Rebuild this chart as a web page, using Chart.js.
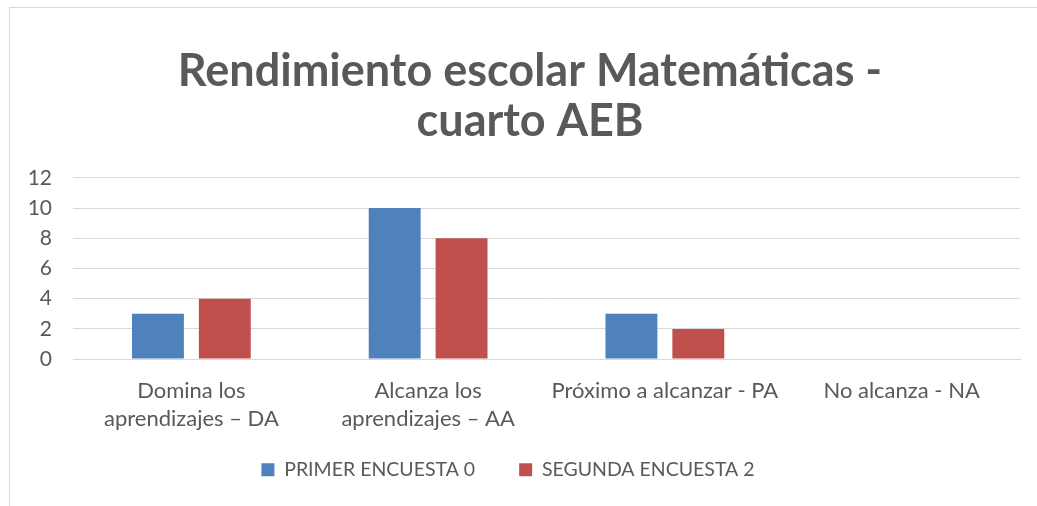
<!DOCTYPE html>
<html>
<head>
<meta charset="utf-8">
<script src="https://cdn.jsdelivr.net/npm/chart.js@4.4.0/dist/chart.umd.min.js"></script>
<style>
  html, body { margin: 0; padding: 0; background: #fff; }
  #wrap { position: relative; width: 1037px; height: 506px; overflow: hidden; }
  #frame { position: absolute; left: 9px; top: 7px; width: 1100px; height: 600px; border: 1px solid #d9d9d9; box-sizing: border-box; }
  canvas { position: absolute; left: 0; top: 0; }
</style>
</head>
<body>
<div id="wrap">
  <div id="frame"></div>
  <canvas id="myChart" width="1037" height="506"></canvas>
</div>
<script>
// categories and values
const categories = [
  ['Domina los', 'aprendizajes – DA'],
  ['Alcanza los', 'aprendizajes – AA'],
  'Próximo a alcanzar - PA',
  'No alcanza - NA'
];
const primerEncuesta = [3, 10, 3, 0];
const segundaEncuesta = [4, 8, 2, 0];
const yTicks = [0, 2, 4, 6, 8, 10, 12];

const textColor = '#595959';
const fontFamily = 'Lato, "Open Sans", sans-serif';

// title sits a little right of the canvas middle, legend a little left;
// the legend box is stretched upward so its wide item padding fits
const nudgeBoxes = {
  id: 'nudgeBoxes',
  afterLayout(chart) {
    chart.titleBlock.left += 15;
    chart.titleBlock.right += 15;
    chart.legend.left -= 7;
    chart.legend.right -= 7;
    chart.legend.top = 416;
  }
};

const ctx = document.getElementById('myChart');
const myChart = new Chart(ctx, {
  type: 'bar',
  data: {
    labels: categories,
    datasets: [{
      label: 'PRIMER ENCUESTA 0',
      data: primerEncuesta,
      backgroundColor: '#4F81BD'
    }, {
      label: 'SEGUNDA ENCUESTA 2',
      data: segundaEncuesta,
      backgroundColor: '#C0504D'
    }]
  },
  plugins: [nudgeBoxes],
  options: {
    responsive: false,
    animation: false,
    datasets: {
      bar: { categoryPercentage: 0.565, barPercentage: 0.776 }
    },
    layout: { padding: { left: 10, right: 17, top: 47, bottom: 14 } },
    plugins: {
      tooltip: { enabled: false },
      title: {
        display: true,
        text: ['Rendimiento escolar Matemáticas -', 'cuarto AEB'],
        color: textColor,
        font: { family: fontFamily, size: 45, weight: 'bold', lineHeight: 1.11 },
        padding: { top: 0, bottom: 31 }
      },
      legend: {
        position: 'bottom',
        maxHeight: 49,
        labels: {
          color: textColor,
          font: { family: fontFamily, size: 19.5 },
          boxWidth: 13,
          boxHeight: 13,
          padding: 44
        }
      }
    },
    scales: {
      x: {
        grid: { display: false },
        border: { color: '#d9d9d9' },
        ticks: {
          color: textColor,
          font: { family: fontFamily, size: 22, lineHeight: 1.27 },
          padding: 10,
          maxRotation: 0
        }
      },
      y: {
        min: 0,
        max: 12,
        afterFit: function (scale) { scale.width = 63; },
        afterBuildTicks: function (scale) {
          scale.ticks = yTicks.map(v => ({ value: v }));
        },
        grid: { color: '#d9d9d9', drawTicks: false, lineWidth: 1 },
        border: { display: false },
        ticks: {
          color: textColor,
          font: { family: fontFamily, size: 21 },
          padding: 21,
          autoSkip: false
        }
      }
    }
  }
});
</script>
</body>
</html>
